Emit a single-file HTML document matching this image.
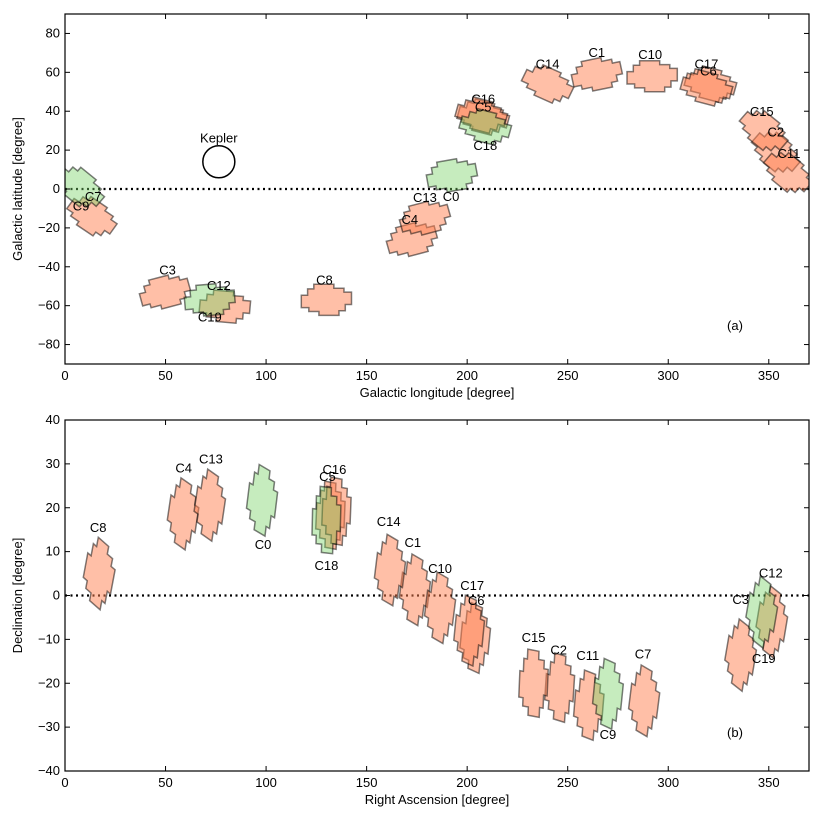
<!DOCTYPE html>
<html><head><meta charset="utf-8"><style>
body{margin:0;background:#fff;font-family:"Liberation Sans",sans-serif;}
svg text{font-family:"Liberation Sans",sans-serif;font-size:13px;fill:#000;}
</style></head><body>
<svg id="c" width="822" height="822" viewBox="0 0 822 822"></svg>
<script>
const names=["C0","C1","C2","C3","C4","C5","C6","C7","C8","C9","C10","C11","C12","C13","C14","C15","C16","C17","C18","C19"];
const isGreen=[1,0,0,0,0,0,0,0,0,1,0,0,1,0,0,0,0,0,1,0];
const lon=[192.4,264.5,353.5,49.7,172.5,208,321,13.4,130,7.5,292,359.5,72,179,240,347.5,207,319,209,79.5];
const lat=[7,59,19,-53,-26,37,54,-14,-57,1,58,8.5,-57,-15,54,30,38,52,32,-60.5];
const rotTop=[10,12,-40,15,15,-15,-15,-35,0,-40,0,-40,5,15,-25,-40,-15,-15,-15,-5];
const lonLblX=[192,264.5,353.5,51,171.5,208,320,14,129,8,291,360,76.5,179,240,346.5,208,319,209,72];
const lonLblY=[-4,70,29,-42,-16,42,60.5,-4,-47,-9,69,18,-50,-4.5,64,39.5,46,64,22,-66];
const ra=[98,174,246,336,58.7,132,204,288,17,270,186.5,260.5,346.5,72,161.6,233,135,201,130,351.5];
const dec=[21.7,1.3,-21,-13.6,18.6,18.3,-9.7,-24,5,-22.4,-2.8,-25,-3.8,20.6,5.8,-20,19.2,-8,17.2,-6];
const rotBot=[-15,-15,-8,-20,-18,-5,-12,-15,-22,-12,-15,-10,-20,-18,-15,-5,-5,-12,-3,-20];
const raLblX=[98.5,173,245.5,336,59,130.5,204.5,287.5,16.5,270,186.5,260,351,72.6,161,233,134,202.5,130,347.5];
const raLblY=[11.5,12,-12.5,-1,29,27,-1.3,-13.5,15.4,-31.8,6,-13.8,5,31,16.7,-9.7,28.6,2.2,6.7,-14.5];
const topYTicks=[-80,-60,-40,-20,0,20,40,60,80];
const botYTicks=[-40,-30,-20,-10,0,10,20,30,40];
const xTicks=[0,50,100,150,200,250,300,350];

const svg=document.getElementById('c');
const NS='http://www.w3.org/2000/svg';
function mk(t,a,p){const e=document.createElementNS(NS,t);for(const k in a)e.setAttribute(k,a[k]);(p||svg).appendChild(e);return e;}
const shape=[[-0.5,1],[0.3,1],[0.3,0.75],[0.7,0.75],[0.7,0.5],[1,0.5],[1,-0.3],[0.75,-0.3],[0.75,-0.7],[0.5,-0.7],[0.5,-1],[-0.3,-1],[-0.3,-0.75],[-0.7,-0.75],[-0.7,-0.5],[-1,-0.5],[-1,0.3],[-0.75,0.3],[-0.75,0.7],[-0.5,0.7]];
const X0=65,X1=809;
const sx=v=>X0+(v-0)/(370-0)*(X1-X0);
const panels=[
 {name:'galactic',y0:14,y1:364,ymin:-90,ymax:90,ticks:topYTicks,cx:lon,cy:lat,rot:rotTop,hx:12.5,hy:8,lx:lonLblX,ly:lonLblY,xl:'Galactic longitude [degree]',yl:'Galactic latitude [degree]',tag:'(a)'},
 {name:'equatorial',y0:420,y1:771,ymin:-40,ymax:40,ticks:botYTicks,cx:ra,cy:dec,rot:rotBot,hx:7,hy:7.5,lx:raLblX,ly:raLblY,xl:'Right Ascension [degree]',yl:'Declination [degree]',tag:'(b)'}
];
panels.forEach((P,pi)=>{
 const sy=v=>P.y1-(v-P.ymin)/(P.ymax-P.ymin)*(P.y1-P.y0);
 const g=mk('g',{});
 
 
 const clip=mk('clipPath',{id:'cl'+pi},g);mk('rect',{x:X0,y:P.y0,width:X1-X0,height:P.y1-P.y0},clip);
 const pg=mk('g',{'clip-path':'url(#cl'+pi+')'},g);
 const zl=mk('line',{x1:X0,x2:X1,y1:sy(0),y2:sy(0),stroke:'#000','stroke-width':2.2,'stroke-dasharray':'2,3.5'},pg);
 
 
 const order=[];names.forEach((n,i)=>{if(!isGreen[i])order.push(i)});names.forEach((n,i)=>{if(isGreen[i])order.push(i)});
 order.forEach(i=>{
  const a=P.rot[i]*Math.PI/180,c=Math.cos(a),s=Math.sin(a);
  const pts=shape.map(([u,v])=>{const du=u*P.hx,dv=v*P.hy;const dx=du*c-dv*s,dy=du*s+dv*c;return sx(P.cx[i]+dx).toFixed(1)+','+sy(P.cy[i]+dy).toFixed(1);}).join(' ');
  const p=mk('polygon',{points:pts,fill:isGreen[i]?'rgba(120,210,100,0.42)':'rgba(255,127,80,0.5)',stroke:'rgba(0,0,0,0.5)','stroke-width':1.5},pg);
  
  
 });
 names.forEach((n,i)=>{
  const t=mk('text',{x:sx(P.lx[i]),y:sy(P.ly[i])+4,'text-anchor':'middle'},g);t.textContent=n;
  
  
 });
 if(pi===0){
  const k=mk('circle',{cx:sx(76.5),cy:sy(14),r:16,fill:'none',stroke:'#000','stroke-width':1.5},g);
  
  
  const kt=mk('text',{x:sx(76.5),y:sy(26)+4,'text-anchor':'middle'},g);kt.textContent='Kepler';
  
  
 }
 const fr=mk('rect',{x:X0,y:P.y0,width:X1-X0,height:P.y1-P.y0,fill:'none',stroke:'#000','stroke-width':1.2},g);
 
 
 xTicks.forEach(v=>{
  mk('line',{x1:sx(v),x2:sx(v),y1:P.y1,y2:P.y1-5,stroke:'#000'},g);
  mk('line',{x1:sx(v),x2:sx(v),y1:P.y0,y2:P.y0+5,stroke:'#000'},g);
  const t=mk('text',{x:sx(v),y:P.y1+16,'text-anchor':'middle'},g);t.textContent=v;
  
  
 });
 P.ticks.forEach(v=>{
  mk('line',{x1:X0,x2:X0+5,y1:sy(v),y2:sy(v),stroke:'#000'},g);
  mk('line',{x1:X1,x2:X1-5,y1:sy(v),y2:sy(v),stroke:'#000'},g);
  const t=mk('text',{x:X0-5,y:sy(v)+4,'text-anchor':'end'},g);t.textContent=v<0?'\u2212'+(-v):v;
  
  
 });
 const xt=mk('text',{x:(X0+X1)/2,y:P.y1+33,'text-anchor':'middle'},g);xt.textContent=P.xl;
 
 
 const yc=(P.y0+P.y1)/2;
 const yt=mk('text',{x:22,y:yc,'text-anchor':'middle',transform:'rotate(-90 22 '+yc+')'},g);yt.textContent=P.yl;
 
 
 const tg=mk('text',{x:735,y:pi===0?330:737,'text-anchor':'middle'},g);tg.textContent=P.tag;
 
 
});
</script>
</body></html>
